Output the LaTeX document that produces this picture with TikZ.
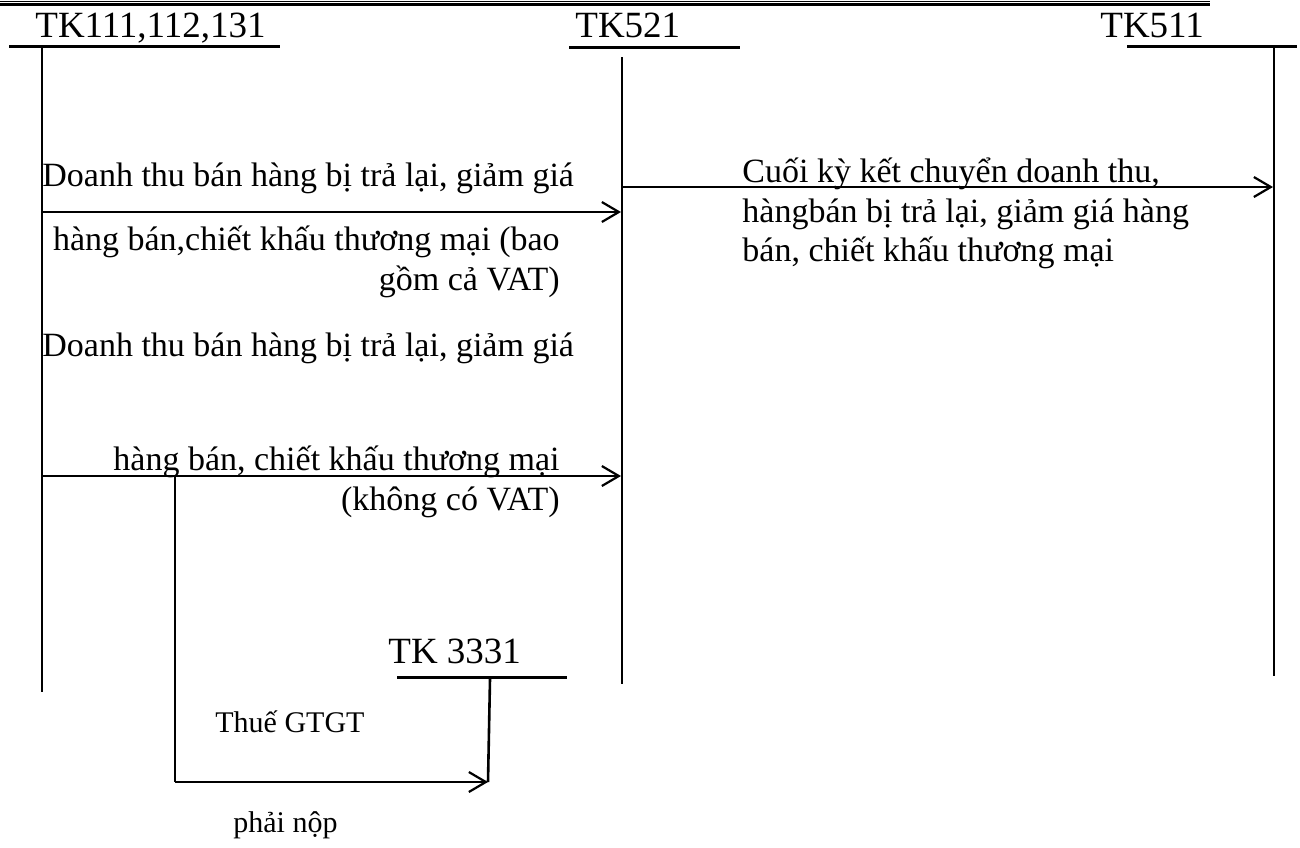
\documentclass[tikz,border=0pt]{standalone}
\usepackage{fontspec}
\setmainfont{Liberation Serif}
\usetikzlibrary{arrows.meta}
\begin{document}
\begin{tikzpicture}[x=0.5pt,y=-0.5pt,
  acct/.style={line width=1.3pt},
  bar/.style={line width=1.5pt},
  flow/.style={line width=1.1pt,-{Straight Barb[length=8.5pt,width=10pt,line width=1.1pt]}},
  plain/.style={line width=1.1pt},
  head/.style={inner sep=0pt,font=\fontsize{18.5}{22}\selectfont},
  lbl/.style={inner sep=0pt,font=\fontsize{17}{20}\selectfont},
  small/.style={inner sep=0pt,font=\fontsize{15}{18}\selectfont}]
\useasboundingbox (0,0) rectangle (1300,847);

% page rule at the top
\draw[line width=0.6pt] (0,1.2) -- (1210,1.2);
\draw[line width=1.2pt] (0,4.3) -- (1210,4.3);

% account headers
\node[head,anchor=base west] (h1) at (35,37) {TK111,112,131};
\node[head,anchor=base west] (h2) at (575,37) {TK521};
\node[head,anchor=base west] (h3) at (1100,37) {TK511};
\node[head,anchor=base west] (h4) at (388,663) {TK 3331};

% T-account bars
\draw[bar] (9,46) -- (280,46);
\draw[bar] (569,47) -- (740,47);
\draw[bar] (1127,46) -- (1297,46);
\draw[bar] (397,677) -- (567,677);

\coordinate (a1top) at (42,48);
\coordinate (a1bot) at (42,692);
\coordinate (a2top) at (622,57);
\coordinate (a2bot) at (622,684);
\coordinate (a3top) at (1274,48);
\coordinate (a3bot) at (1274,676);
\coordinate (a4top) at (490,679);
\coordinate (a4bot) at (488,782);

\draw[acct] (a1top) -- (a1bot);
\draw[acct] (a2top) -- (a2bot);
\draw[acct] (a3top) -- (a3bot);
\draw[acct] (a4top) -- (a4bot);

% entries
\coordinate (s1) at (42,212);
\coordinate (e1) at (621,212);
\coordinate (s2) at (42,476);
\coordinate (e2) at (621,476);
\coordinate (s3) at (622,187);
\coordinate (e3) at (1273,187);
\coordinate (b0) at (175,476);
\coordinate (b1) at (175,782);

\draw[flow] (s1) -- (e1);
\draw[flow] (s2) -- (e2);
\draw[flow] (s3) -- (e3);
\draw[plain] (b0) -- (b1);
\draw[flow] (b1) -- (a4bot);

% entry descriptions
\node[lbl,anchor=base west] (t1) at (42,186) {Doanh thu bán hàng bị trả lại, giảm giá};
\node[lbl,anchor=base east] (t2) at (560,250) {hàng bán,chiết khấu thương mại (bao};
\node[lbl,anchor=base east] (t3) at (560,290) {gồm cả VAT)};
\node[lbl,anchor=base west] (t4) at (42,356) {Doanh thu bán hàng bị trả lại, giảm giá};
\node[lbl,anchor=base east] (t5) at (560,470) {hàng bán, chiết khấu thương mại};
\node[lbl,anchor=base east] (t6) at (560,510) {(không có VAT)};
\node[lbl,anchor=base west] (t7) at (742,182) {Cuối kỳ kết chuyển doanh thu,};
\node[lbl,anchor=base west] (t8) at (742,222) {hàngbán bị trả lại, giảm giá hàng};
\node[lbl,anchor=base west] (t9) at (742,261) {bán, chiết khấu thương mại};
\node[small,anchor=base west] (t10) at (215,732) {Thuế GTGT};
\node[small,anchor=base west] (t11) at (233,832) {phải nộp};
\end{tikzpicture}
\end{document}
